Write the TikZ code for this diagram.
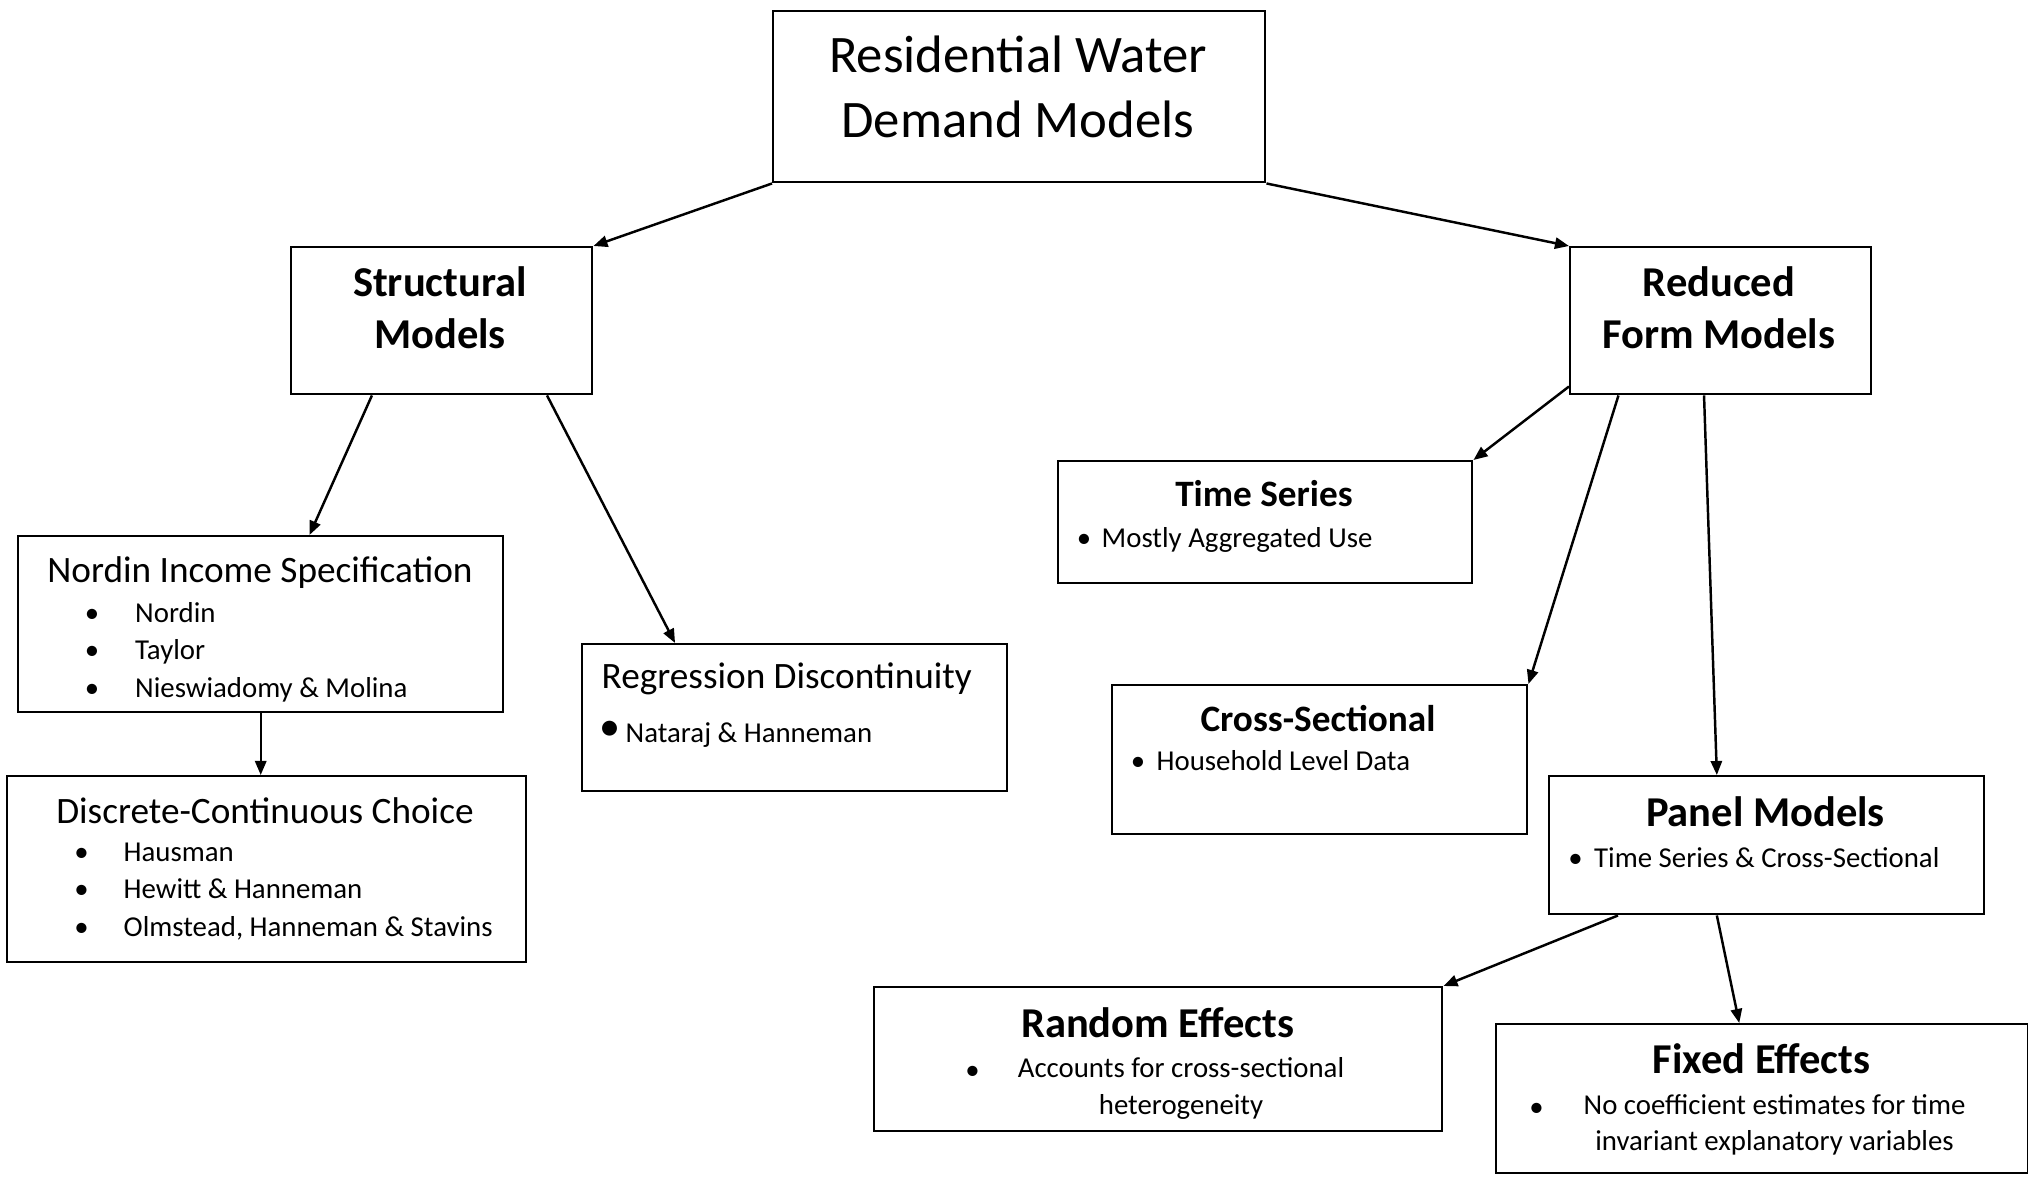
\documentclass[tikz,border=0pt]{standalone}
\usepackage{fontspec}
\setmainfont{Carlito}
\usepackage{tikz}
\usetikzlibrary{arrows.meta,calc,positioning}

\newcommand{\titlefont}{\fontsize{15}{18.5}\selectfont}
\newcommand{\headfont}{\fontsize{10.6}{12.9}\selectfont}
\newcommand{\bighead}{\fontsize{12.1}{14.8}\selectfont\bfseries}
\newcommand{\subhead}{\fontsize{10.6}{13}\selectfont\bfseries}
\newcommand{\itemfont}{\fontsize{8.2}{10.4}\selectfont}

\tikzset{
	box/.style={draw, line width=0.7pt, anchor=north west, inner sep=0pt},
	txt/.style={inner sep=0pt, align=center},
	itemtxt/.style={inner sep=0pt, anchor=west, font=\itemfont, text height=1.6ex, text depth=0.4ex},
	dot/.style={inner sep=0pt, font=\itemfont, text height=1.6ex, text depth=0.4ex},
	>={Triangle[length=4pt,width=3.2pt]}
}

\begin{document}
\begin{tikzpicture}
\useasboundingbox (0,0) rectangle (20.28,-11.77);

\node[box, minimum width=4.92cm, minimum height=1.71cm] (top) at (7.72,-0.10) {};
\node[box, minimum width=3.01cm, minimum height=1.47cm] (struct) at (2.90,-2.46) {};
\node[box, minimum width=3.01cm, minimum height=1.47cm] (reduced) at (15.69,-2.46) {};
\node[box, minimum width=4.85cm, minimum height=1.76cm] (nordin) at (0.17,-5.35) {};
\node[box, minimum width=5.19cm, minimum height=1.86cm] (discrete) at (0.06,-7.75) {};
\node[box, minimum width=4.25cm, minimum height=1.47cm] (regress) at (5.81,-6.43) {};
\node[box, minimum width=4.14cm, minimum height=1.22cm] (timeser) at (10.57,-4.60) {};
\node[box, minimum width=4.15cm, minimum height=1.49cm] (cross) at (11.11,-6.84) {};
\node[box, minimum width=4.35cm, minimum height=1.38cm] (panel) at (15.48,-7.75) {};
\node[box, minimum width=5.68cm, minimum height=1.44cm] (random) at (8.73,-9.86) {};
\node[box, minimum width=5.32cm, minimum height=1.49cm] (fixed) at (14.95,-10.23) {};

% headings
\node[txt, font=\titlefont] (top-t) at (10.18,-0.867) {Residential Water\\Demand Models};
\node[txt, font=\bighead] (struct-t) at (4.40,-3.08) {Structural\\Models};
\node[txt, font=\bighead] (reduced-t) at (17.19,-3.08) {Reduced\\Form Models};
\node[txt, font=\headfont] (nordin-t) at (2.60,-5.73) {Nordin Income Specification};
\node[txt, font=\headfont] (discrete-t) at (2.65,-8.11) {Discrete-Continuous Choice};
\node[txt, font=\headfont, anchor=west] (regress-t) at (6.01,-6.79) {Regression Discontinuity};
\node[txt, font=\subhead] (timeser-t) at (12.64,-4.94) {Time Series};
\node[txt, font=\subhead] (cross-t) at (13.18,-7.19) {Cross-Sectional};
\node[txt, font=\bighead] (panel-t) at (17.655,-8.12) {Panel Models};
\node[txt, font=\bighead] (random-t) at (11.576,-10.23) {Random Effects};
\node[txt, font=\bighead] (fixed-t) at (17.616,-10.59) {Fixed Effects};

% bullet lists
\foreach \name [count=\i] in {Nordin, Taylor, Nieswiadomy \& Molina} {
	\pgfmathsetmacro{\y}{-6.12-(\i-1)*0.375}
	\node[dot] (nordin-d\i) at (0.92,\y) {\textbullet};
	\node[itemtxt] (nordin-\i) at (1.345,\y) {\name};
}
\foreach \name [count=\i] in {Hausman, Hewitt \& Hanneman, {Olmstead, Hanneman \& Stavins}} {
	\pgfmathsetmacro{\y}{-8.51-(\i-1)*0.375}
	\node[dot] (discrete-d\i) at (0.815,\y) {\textbullet};
	\node[itemtxt] (discrete-\i) at (1.23,\y) {\name};
}

\node[dot, font=\fontsize{12}{12}\selectfont] (regress-d) at (6.10,-7.30) {\textbullet};
\node[itemtxt] (regress-1) at (6.25,-7.32) {Nataraj \& Hanneman};
\node[dot] (timeser-d) at (10.84,-5.37) {\textbullet};
\node[itemtxt] (timeser-1) at (11.01,-5.37) {Mostly Aggregated Use};
\node[dot] (cross-d) at (11.38,-7.605) {\textbullet};
\node[itemtxt] (cross-1) at (11.56,-7.605) {Household Level Data};
\node[dot] (panel-d) at (15.755,-8.575) {\textbullet};
\node[itemtxt] (panel-1) at (15.935,-8.575) {Time Series \& Cross-Sectional};
\node[dot] (random-d) at (9.726,-10.69) {\textbullet};
\node[txt, font=\itemfont] (random-1) at (11.81,-10.885) {Accounts for cross-sectional\\heterogeneity};
\node[dot] (fixed-d) at (15.365,-11.06) {\textbullet};
\node[txt, font=\itemfont] (fixed-1) at (17.745,-11.25) {No coefficient estimates for time\\invariant explanatory variables};

% connectors
\draw[->, line width=0.7pt] (top.south west) to (struct.north east);
\draw[->, line width=0.7pt] (top.south east) to (reduced.north west);
\draw[->, line width=0.7pt] ($(struct.south west)!0.27!(struct.south east)$) to ($(nordin.north west)!0.60!(nordin.north east)$);
\draw[->, line width=0.7pt] ($(struct.south west)!0.847!(struct.south east)$) to ($(regress.north west)!0.22!(regress.north east)$);
\draw[->, line width=0.7pt] (nordin.south) to (nordin.south |- discrete.north);
\draw[->, line width=0.7pt] ($(reduced.south west)!0.06!(reduced.north west)$) to (timeser.north east);
\draw[->, line width=0.7pt] ($(reduced.south west)!0.163!(reduced.south east)$) to (cross.north east);
\draw[->, line width=0.7pt] ($(reduced.south west)!0.445!(reduced.south east)$) to ($(panel.north west)!0.386!(panel.north east)$);
\draw[->, line width=0.7pt] ($(panel.south west)!0.16!(panel.south east)$) to (random.north east);
\draw[->, line width=0.7pt] ($(panel.south west)!0.386!(panel.south east)$) to ($(fixed.north west)!0.457!(fixed.north east)$);

\end{tikzpicture}
\end{document}
